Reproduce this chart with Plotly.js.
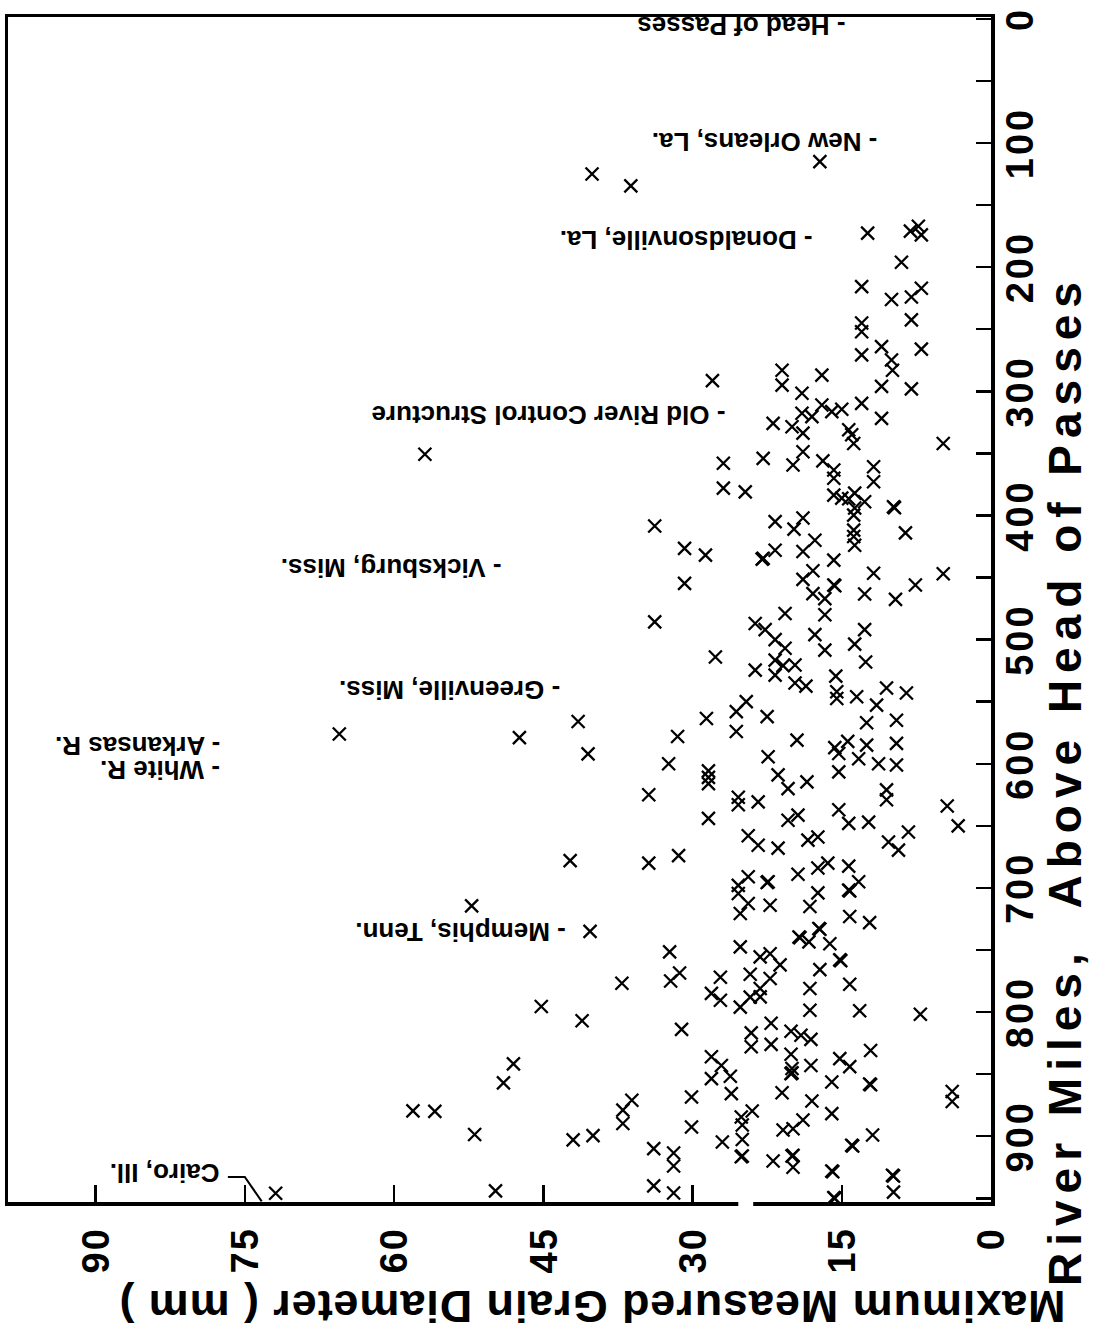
<!DOCTYPE html>
<html><head><meta charset="utf-8">
<script src="https://cdn.plot.ly/plotly-3.0.1.min.js"></script>
<style>
html,body{margin:0;padding:0;overflow:hidden;background:#fff;width:1095px;height:1340px;}
#wrap{position:absolute;left:0;top:0;width:1340px;height:1095px;transform-origin:0 0;transform:translate(0px,1340px) rotate(-90deg);}
#wrap .annotation[data-index="10"] text{letter-spacing:0.9px;}
#wrap .annotation[data-index="11"] text{letter-spacing:7px;}
#wrap .xtick text{letter-spacing:3px;}
#wrap .ytick text{letter-spacing:2px;}
</style></head><body><div id="wrap"></div>
<script>
const riverMile = [
115,172.6,171,167,174,196,
215.7,226,224,217,242.5,245,252,264,270.7,266,274.8,283,296,298,291.4,283,295,287,301.6,311,317.7,320.4,316.4,314.5,309.7,321.8,325.8,328.5,331,
333.7,335,342,342,358,354,359.4,348.7,356,363.4,370,360.8,372.8,378,381,383.6,386,386.5,382,389,394,399.7,393,393.8,
408.5,405,402,411,411.8,417,424,414,426.5,432,434.6,435.2,428,429,420,436,444.5,451.5,454.7,456,456.6,446.6,456,447,
463,467,463.3,467.6,485.7,487,492,500,479,507,480,496,508.5,503.6,492,518,514,524.6,516.5,528.6,521,520.5,535,537.5,529.4,542,547.4,546,539,543,552.8,550,558,563.5,562,574,578,567,565,581,582,585,583.6,587,
591.7,600,605.7,611,616,594.4,609,620,614.6,606.5,596,600,601,621,629,625,644,627,633,630.7,645.5,641.4,637,648,647,655,663,669.6,634,650,658,665.6,668,661.5,659,680,674,698,704.5,691,695,695.6,689,684,680,682.5,704,701.8,702.4,695,712.6,714,715,
720.6,723,728,751.5,768.5,775,814,747.5,755.6,753,762,772,785,790.5,796,769.5,773,781,788,787.8,739.5,740.1,743.5,732.7,733.3,745,765.8,758,758.6,781,777.6,798.5,799,801.8,816.8,809,828,826,815.5,818.7,822,834,837.5,831,836,843,845.5,843,844,
853.6,851.7,865.7,868.4,892.6,910,913.5,924,940,945.8,904.7,884.5,879.7,891,902.7,916,916.6,849,849.6,865,871.6,856.3,858,858.6,881.8,887,895,894,920,915.4,916,925,907.3,907.9,899,928,928.6,931.5,932.1,945,949.5,950.1,864,872,
125,134.5,350.7,576,579,566,592,678,714.5,735,776.8,795.5,807,841.7,857,879.6,880,898.6,903,899.5,879,871,889.8,946,944
];
const grainDiameter = [
17.2,12.4,8.1,7.3,7.0,9.0,
13.0,10.0,8.0,7.0,8.0,13.0,13.0,11.0,13.0,7.0,10.0,9.9,11.0,8.0,28.0,21.0,21.0,17.0,19.0,17.0,19.0,18.0,16.0,15.0,13.0,11.0,21.9,20.0,14.3,
18.9,14.0,13.8,4.8,26.9,22.9,19.9,18.9,16.9,15.8,15.8,11.8,11.8,26.9,24.7,15.8,15.0,14.3,13.7,12.7,13.7,13.8,9.8,9.7,
33.8,21.7,18.9,19.8,13.8,13.8,13.7,8.6,30.8,28.7,22.9,23.0,21.7,18.9,17.7,15.8,17.9,18.9,30.8,15.8,15.7,11.8,7.6,4.8,
17.9,16.7,12.7,9.6,33.8,23.7,22.7,21.7,20.7,20.7,16.7,17.7,16.7,13.7,12.7,12.6,27.7,23.7,21.7,21.7,20.9,19.7,19.7,18.6,15.6,15.5,15.5,13.5,10.5,8.5,11.5,24.6,25.6,28.6,22.5,25.6,31.5,12.5,9.5,19.5,14.4,12.5,9.5,15.7,
15.3,32.4,28.4,28.4,28.4,22.4,21.4,20.4,18.5,15.3,13.3,11.3,9.5,10.5,10.5,34.4,28.4,25.4,25.4,23.4,20.4,19.4,15.3,14.3,12.3,8.3,10.3,9.3,4.4,3.3,24.4,23.4,21.4,18.4,17.4,34.4,31.4,25.4,25.4,24.4,22.4,22.5,19.4,17.4,16.4,14.3,17.4,14.3,14.2,13.3,24.4,22.2,18.2,
25.2,14.2,12.2,32.3,31.3,32.2,31.1,25.2,23.2,22.2,21.2,27.2,28.1,27.2,25.2,24.2,22.2,23.2,24.2,23.2,19.3,19.2,18.3,17.3,17.2,16.2,17.2,15.2,15.1,18.2,14.2,18.2,13.2,7.1,24.1,22.1,24.1,22.1,20.1,19.1,18.1,20.1,15.2,12.1,28.1,27.1,20.0,18.1,14.2,
28.1,26.2,26.1,30.1,30.1,33.9,31.9,31.9,33.9,31.9,27.0,25.1,24.0,25.0,25.0,25.0,25.1,20.0,20.1,21.0,18.0,16.0,12.2,12.1,16.0,18.9,20.9,19.9,21.9,19.9,20.0,19.9,14.0,13.9,11.9,16.0,15.9,9.9,9.8,9.8,15.8,15.7,3.9,3.9,
40.1,36.2,56.9,65.5,47.4,41.5,40.5,42.3,52.2,40.3,37.1,45.2,41.1,48.0,49.0,58.1,55.9,51.9,42.0,40.0,37.0,36.1,37.0,71.9,49.8
];
const mileTicks = [0,100,200,300,400,500,600,700,800,900];
const mileTickText = ["0","100","200","300","400","500","600","700","800","900"];
const diameterTicks = [0,15,30,45,60,75,90];
const diameterTickText = ["0","15","30","45","60","75","90"];
const placeNames = ["- Head of Passes","- New Orleans, La.","- Donaldsonville, La.","- Old River Control Structure","- Vicksburg, Miss.","- Greenville, Miss.","- Arkansas R.","- White R.","- Memphis, Tenn.","Cairo, Ill."];
const placeMiles = [6,99,178,319,442,541,585,605,735,930];
const placeLabelStart = [14.4,11.2,17.7,26.5,49,43.1,77.3,77.3,42.5,77.3];

const FONT = "Liberation Sans, Arial, Helvetica, sans-serif";
const annotations = placeNames.map((t,i)=>({
  x: placeMiles[i], y: placeLabelStart[i], xref:'x', yref:'y',
  text: t, showarrow:false, textangle:-90, xanchor:'center', yanchor:'bottom',
  font:{family:FONT,size:26,weight:700,color:'#000'}
}));
annotations.push({
  xref:'paper', yref:'paper', x:-0.0886, y:0.4054, xanchor:'center', yanchor:'middle',
  textangle:-90, showarrow:false,
  text:"Maximum Measured Grain Diameter ( mm )",
  font:{family:FONT,size:45,weight:700,color:'#000'}
});
annotations.push({
  xref:'paper', yref:'paper', x:0.356, y:-0.0755, xanchor:'center', yanchor:'middle',
  showarrow:false,
  text:"River Miles,&nbsp; Above Head of Passes",
  font:{family:FONT,size:46,weight:700,color:'#000'}
});

const trace = {
  type:'scatter', mode:'markers', x: riverMile, y: grainDiameter,
  marker:{symbol:'x-thin', size:13, color:'#000', line:{width:2.3,color:'#000'}},
  hoverinfo:'skip'
};
const layout = {
  width:1340, height:1095,
  margin:{l:138, r:17, t:8, b:104, pad:0},
  paper_bgcolor:'#fff', plot_bgcolor:'#fff',
  showlegend:false,
  font:{family:FONT, color:'#000'},
  xaxis:{
    range:[953,-1.5], showgrid:false, zeroline:false,
    showline:true, mirror:true, linewidth:3.5, linecolor:'#000',
    ticks:'inside', ticklen:15, tickwidth:2.5, tickcolor:'#000',
    tickvals: mileTicks, ticktext: mileTickText,
    minor:{dtick:50, tick0:0, ticks:'inside', ticklen:15, tickwidth:2.5, tickcolor:'#000', showgrid:false},
    tickfont:{family:FONT,size:38,weight:700,color:'#000'},
    ticklabelstandoff:-7
  },
  yaxis:{
    range:[0,98.8], showgrid:false, zeroline:false,
    showline:true, mirror:true, linewidth:3.5, linecolor:'#000',
    ticks:'inside', ticklen:17, tickwidth:2.5, tickcolor:'#000',
    tickvals: diameterTicks, ticktext: diameterTickText,
    tickfont:{family:FONT,size:38,weight:700,color:'#000'},
    ticklabelstandoff:14
  },
  annotations: annotations,
  shapes:[
    {type:'path', xref:'x', yref:'y', path:'M 932.8,76.7 L 932.8,75.0 L 952.5,73.3', line:{color:'#000',width:2}},
    {type:'rect', xref:'paper', yref:'y', x0:-0.006, x1:0.006, y0:23.9, y1:25.4, fillcolor:'#fff', line:{width:0}, layer:'above'}
  ]
};
Plotly.newPlot('wrap',[trace],layout,{displayModeBar:false, staticPlot:true});
</script>
</body></html>
